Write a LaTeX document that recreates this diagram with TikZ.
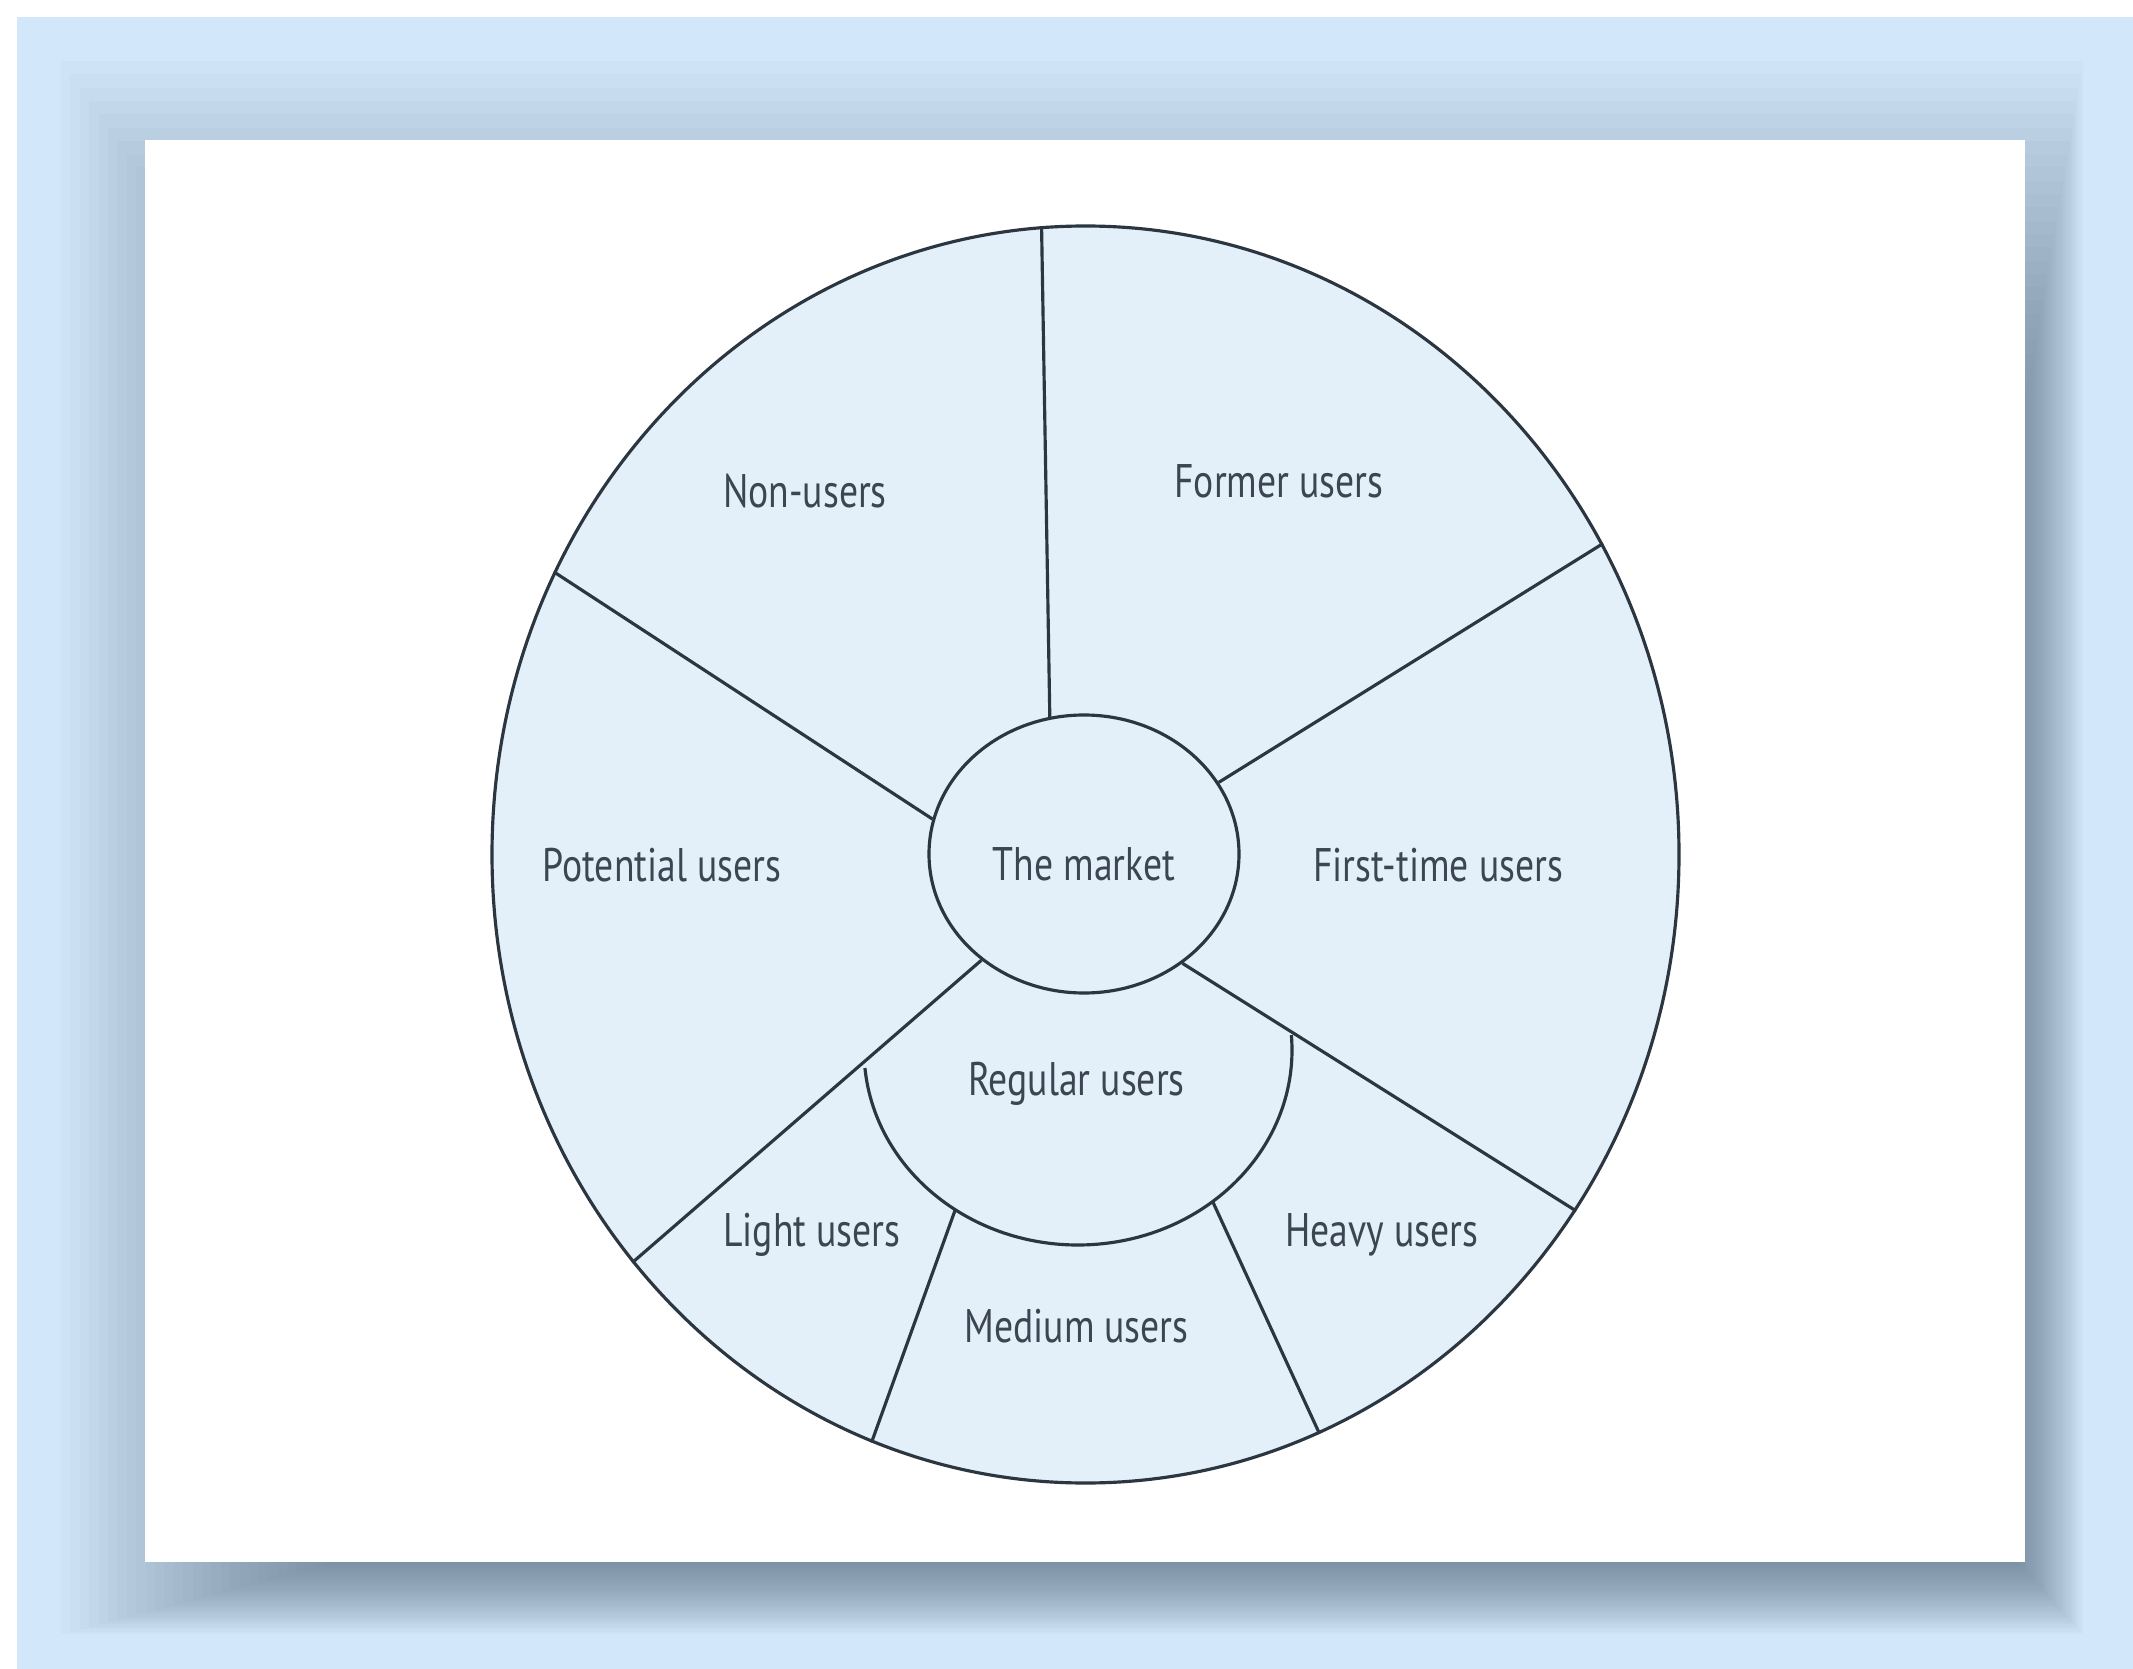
\documentclass[tikz,border=0pt]{standalone}
\usepackage{fontspec}
\setmainfont{PT Sans}[FakeStretch=0.8]
\usetikzlibrary{shapes.geometric,calc}

\definecolor{bgblue}{HTML}{D2E7FA}
\definecolor{piefill}{HTML}{E3EFF9}
\definecolor{edge}{HTML}{2B3641}
\definecolor{labeltext}{HTML}{3B4652}
\definecolor{shadowcol}{HTML}{4A5F73}

\begin{document}
\begin{tikzpicture}[ring/.style={ellipse, draw=edge, line width=0.9pt, fill=piefill, inner sep=0pt},
    cut/.style={draw=edge, line width=0.9pt},
    lbl/.style={text=labeltext, font=\fontsize{13.4}{15}\selectfont, inner sep=0pt, anchor=base}]
    \useasboundingbox (0,0) rectangle (21.33,-16.69);
    \fill[bgblue] (0.17,-0.17) rectangle (21.33,-16.69);
    % soft shadow of the panel
    \foreach \i in {1,...,30}
        \fill[shadowcol, opacity=0.026] ({3.43-0.094*\i},{-4.60+0.133*\i}) rectangle ({20.16+0.0223*\i},{-15.595-0.025*\i});
    \fill[white] (1.45,-1.40) rectangle (20.25,-15.62);

    \node at (10.855,-8.545) [ring, minimum width=11.87cm, minimum height=12.57cm] (outer) {};
    \node at (10.84,-8.54) [ring, minimum width=3.10cm, minimum height=2.78cm, text=labeltext, font=\fontsize{13.4}{15}\selectfont, text height=0.52cm, text depth=0pt] (market) {The market};
    \coordinate (reg) at (10.78,-10.50);
    \coordinate (regleft) at ($(reg)+(185.3:2.14 and 1.95)$);
    \coordinate (reglm) at ($(reg)+(235:2.14 and 1.95)$);
    \coordinate (regmh) at ($(reg)+(309:2.14 and 1.95)$);

    \draw[cut] (outer.94) -- (market.104);
    \draw[cut] (outer.152) -- (market.167);
    \draw[cut] (outer.31) -- (market.28);
    \draw[cut] (outer.222) -- (market.226);
    \draw[cut] (outer.324) -- (market.312);
    \draw[cut] (regleft) arc[start angle=185.3, end angle=364.4, x radius=2.14, y radius=1.95];
    \draw[cut] (reglm) -- (outer.250);
    \draw[cut] (regmh) -- (outer.292);

    \node at (8.05,-5.08) [lbl] (nonusers) {Non-users};
    \node at (12.79,-4.97) [lbl] (former) {Former users};
    \node at (6.62,-8.81) [lbl] (potential) {Potential users};
    \node at (14.38,-8.81) [lbl] (firsttime) {First-time users};
    \node at (10.765,-10.95) [lbl] (regular) {Regular users};
    \node at (8.12,-12.46) [lbl] (light) {Light users};
    \node at (13.82,-12.46) [lbl] (heavy) {Heavy users};
    \node at (10.765,-13.42) [lbl] (medium) {Medium users};
\end{tikzpicture}
\end{document}
